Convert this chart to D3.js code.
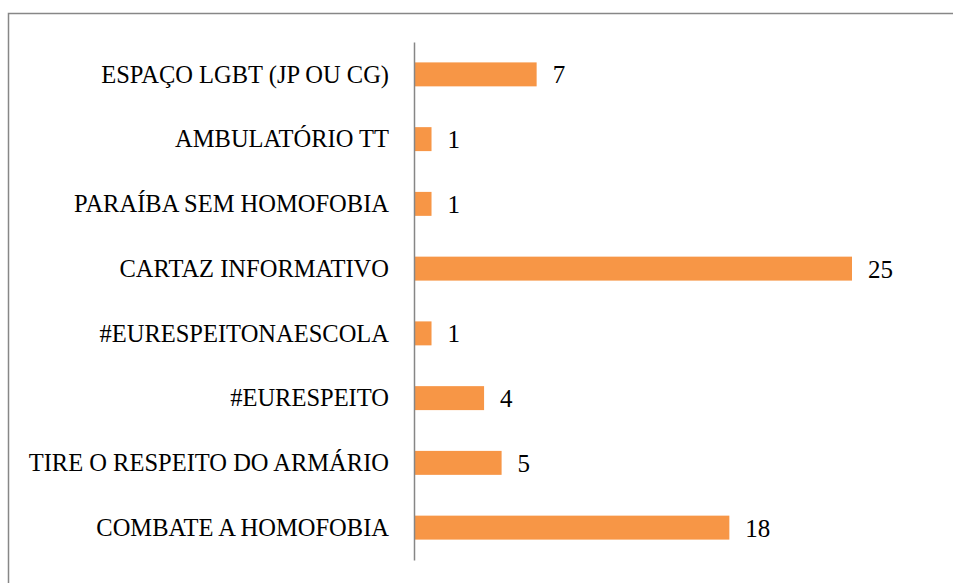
<!DOCTYPE html>
<html>
<head>
<meta charset="utf-8">
<script src="https://cdn.jsdelivr.net/npm/d3@7"></script>
<style>
html,body{margin:0;padding:0;background:#fff;}
svg{display:block;}
</style>
</head>
<body>
<svg id="chart" width="953" height="583"></svg>
<script>
const categories = [
  "ESPAÇO LGBT (JP OU CG)",
  "AMBULATÓRIO TT",
  "PARAÍBA SEM HOMOFOBIA",
  "CARTAZ INFORMATIVO",
  "#EURESPEITONAESCOLA",
  "#EURESPEITO",
  "TIRE O RESPEITO DO ARMÁRIO",
  "COMBATE A HOMOFOBIA"
];
const values = [7, 1, 1, 25, 1, 4, 5, 18];

const svg = d3.select("#chart");
const fontFamily = "'Liberation Serif', 'DejaVu Serif', serif";

// outer frame
svg.append("rect")
  .attr("x", 8.5).attr("y", 13.5)
  .attr("width", 960).attr("height", 600)
  .attr("fill", "none").attr("stroke", "#878787").attr("stroke-width", 1.5);

const x = d3.scaleLinear().domain([0, 25]).range([414, 852]);
const y = d3.scaleBand().domain(categories).range([42, 560])
  .paddingInner(0.63).paddingOuter(0.315);

svg.selectAll("rect.bar").data(values).enter().append("rect")
  .attr("class", "bar")
  .attr("x", x(0))
  .attr("y", (d, i) => y(categories[i]))
  .attr("width", d => x(d) - x(0))
  .attr("height", y.bandwidth())
  .attr("fill", "#F79646");

svg.selectAll("text.val").data(values).enter().append("text")
  .attr("class", "val")
  .attr("x", d => x(d) + 16)
  .attr("y", (d, i) => y(categories[i]) + y.bandwidth() / 2 + 9)
  .attr("font-family", fontFamily)
  .attr("font-size", 25)
  .attr("fill", "#000")
  .text(d => d);

// category axis
const yAxis = d3.axisLeft(y).tickSize(0).tickPadding(25);
const g = svg.append("g").attr("transform", `translate(${x(0)},0)`).call(yAxis);
g.select(".domain").attr("stroke", "#868686").attr("stroke-width", 1.5);
g.selectAll("text")
  .attr("font-family", fontFamily)
  .attr("font-size", 24.5)
  .attr("dy", "0.34em")
  .attr("fill", "#000");
</script>
</body>
</html>
